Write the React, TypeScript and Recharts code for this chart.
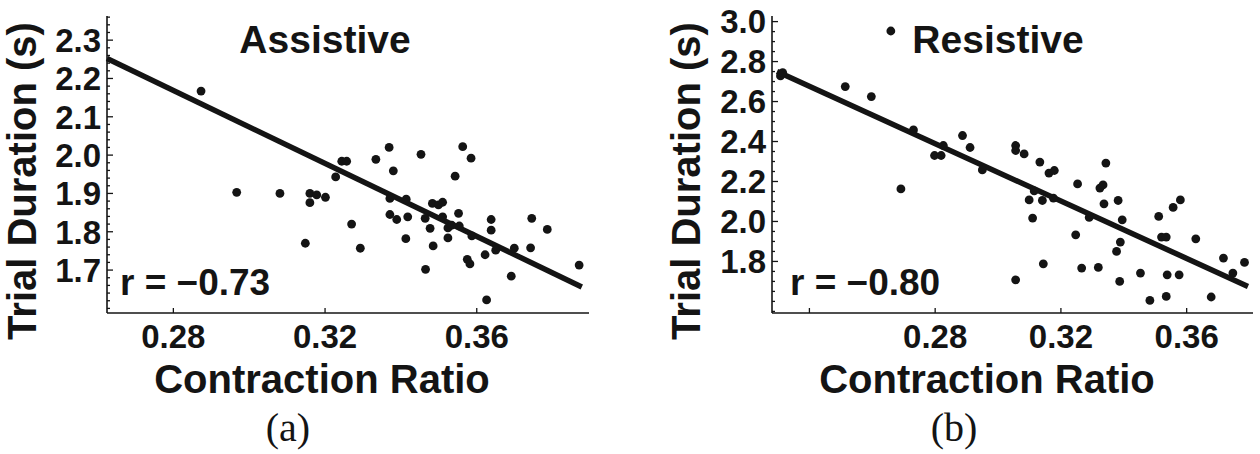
import {
  ScatterChart,
  Scatter,
  XAxis,
  YAxis,
  ReferenceLine,
  Customized,
} from "recharts";

// Assistive condition: contraction ratio vs trial duration (s)
const assistiveRatio = [
  0.2873, 0.2967, 0.3081, 0.316, 0.316, 0.3178, 0.3201, 0.3148, 0.3228, 0.3244,
  0.3257, 0.327, 0.3293, 0.3334, 0.3369, 0.338, 0.3371, 0.3371, 0.3389, 0.3414,
  0.3418, 0.3413, 0.3453, 0.3465, 0.3464, 0.3477, 0.3485, 0.3483, 0.3499, 0.351,
  0.351, 0.3524, 0.3524, 0.3543, 0.3552, 0.3554, 0.3563, 0.3585, 0.3587, 0.3575,
  0.3582, 0.3622, 0.3626, 0.3638, 0.3638, 0.365, 0.3691, 0.3699, 0.3742, 0.3745,
  0.3786, 0.387, 0.3534,
];
const assistiveDuration = [
  2.167, 1.903, 1.9, 1.9, 1.876, 1.896, 1.89, 1.77, 1.943, 1.984,
  1.984, 1.82, 1.757, 1.989, 2.02, 1.959, 1.887, 1.845, 1.832, 1.885,
  1.839, 1.782, 2.002, 1.702, 1.835, 1.809, 1.763, 1.874, 1.87, 1.877,
  1.839, 1.81, 1.784, 1.945, 1.848, 1.815, 2.022, 1.992, 1.789, 1.728,
  1.716, 1.74, 1.622, 1.832, 1.804, 1.752, 1.684, 1.757, 1.758, 1.835,
  1.806, 1.713, 1.817,
];

// Resistive condition
const resistiveRatio = [
  0.2308, 0.2315, 0.2659, 0.2514, 0.2597, 0.2691, 0.2731, 0.2798, 0.2819, 0.2826,
  0.2887, 0.2911, 0.295, 0.3056, 0.3056, 0.3083, 0.3056, 0.3099, 0.311, 0.3115,
  0.3133, 0.3141, 0.3144, 0.3162, 0.3179, 0.3176, 0.3253, 0.3247, 0.3266, 0.329,
  0.3319, 0.3324, 0.3334, 0.3337, 0.3343, 0.3377, 0.3382, 0.3387, 0.3389, 0.3395,
  0.3453, 0.3483, 0.3511, 0.352, 0.3535, 0.3538, 0.3535, 0.3557, 0.3576, 0.358,
  0.3629, 0.3678, 0.3717, 0.3747, 0.3784,
];
const resistiveDuration = [
  2.728, 2.745, 2.953, 2.675, 2.625, 2.163, 2.458, 2.33, 2.33, 2.38,
  2.43, 2.37, 2.258, 2.38, 2.355, 2.338, 1.708, 2.108, 2.017, 2.153,
  2.297, 2.105, 1.788, 2.242, 2.255, 2.117, 2.188, 1.933, 1.767, 2.02,
  1.77, 2.167, 2.183, 2.088, 2.292, 1.85, 2.105, 1.7, 1.897, 2.008,
  1.742, 1.605, 2.025, 1.922, 1.922, 1.733, 1.625, 2.07, 1.733, 2.108,
  1.913, 1.622, 1.817, 1.742, 1.795,
];

// fitted regression lines (end points)
const assistiveFit = [
  { x: 0.2625, y: 2.252 },
  { x: 0.3877, y: 1.656 },
];
const resistiveFit = [
  { x: 0.2297, y: 2.75 },
  { x: 0.3795, y: 1.675 },
];

const assistiveXTicks = [0.28, 0.32, 0.36];
const assistiveYTicks = [1.7, 1.8, 1.9, 2.0, 2.1, 2.2, 2.3];
const resistiveXTicks = [0.24, 0.28, 0.32, 0.36];
const resistiveXLabels = [0.28, 0.32, 0.36];
const resistiveYTicks = [1.8, 2.0, 2.2, 2.4, 2.6, 2.8, 3.0];

const FONT = "'Liberation Sans', Arial, Helvetica, sans-serif";
const SERIF = "'Liberation Serif', 'Times New Roman', serif";
const INK = "#141414";

const steps = (lo: number, hi: number, step: number) => {
  const out: number[] = [];
  for (let v = lo; v <= hi + 1e-9; v += step) out.push(Math.round(v * 1000) / 1000);
  return out;
};

const near = (list: number[], v: number) => list.some((m) => Math.abs(m - v) < 1e-6);

const zip = (xs: number[], ys: number[]) => xs.map((x, i) => ({ x, y: ys[i] }));

const makeYTick = (majors: number[], margin: number) => (props: any) => {
  const { x, y, payload } = props;
  const axisX = x + margin;
  const major = near(majors, payload.value);
  return (
    <g>
      <line x1={axisX} x2={axisX + (major ? 6 : 3)} y1={y} y2={y} stroke={INK} strokeWidth={1.3} />
      {major && (
        <text
          x={x}
          y={y}
          dy="0.36em"
          textAnchor="end"
          fontFamily={FONT}
          fontWeight="bold"
          fontSize={33}
          fill={INK}>
          {payload.value.toFixed(1)}
        </text>
      )}
    </g>
  );
};

const makeXTick = (labels: number[], margin: number) => (props: any) => {
  const { x, y, payload } = props;
  const axisY = y - margin;
  return (
    <g>
      <line x1={x} x2={x} y1={axisY} y2={axisY - 5} stroke={INK} strokeWidth={1.3} />
      {near(labels, payload.value) && (
        <text
          x={x}
          y={y}
          dy="0.71em"
          textAnchor="middle"
          fontFamily={FONT}
          fontWeight="bold"
          fontSize={33}
          fill={INK}>
          {payload.value.toFixed(2)}
        </text>
      )}
    </g>
  );
};

const Dot = (props: any) => <circle cx={props.cx} cy={props.cy} r={4.4} fill={INK} />;

type PanelProps = {
  points: { x: number; y: number }[];
  fit: { x: number; y: number }[];
  xDomain: [number, number];
  yDomain: [number, number];
  xTicks: number[];
  xLabels: number[];
  yTicks: number[];
  yMinor: number[];
  yAxisWidth: number;
  rightMargin: number;
  title: string;
  titleX: number;
  rText: string;
  rX: number;
  yTitleX: number;
  xTitleX: number;
  tag: string;
  tagX: number;
};

function Panel(p: PanelProps) {
  const Annotations = () => (
    <g fontFamily={FONT} fontWeight="bold" fill={INK}>
      <text x={p.titleX} y={53} fontSize={39} textAnchor="middle">
        {p.title}
      </text>
      <text x={p.rX} y={295} fontSize={37}>
        {p.rText}
      </text>
      <text
        x={p.yTitleX}
        y={181}
        fontSize={40}
        textAnchor="middle"
        transform={`rotate(-90, ${p.yTitleX}, 181)`}>
        Trial Duration (s)
      </text>
      <text x={p.xTitleX} y={393} fontSize={40} textAnchor="middle">
        Contraction Ratio
      </text>
      <text
        x={p.tagX}
        y={441}
        fontSize={40}
        fontWeight="normal"
        fontFamily={SERIF}
        textAnchor="middle">
        {p.tag}
      </text>
    </g>
  );

  return (
    <ScatterChart
      width={630}
      height={454}
      margin={{ top: 16, right: p.rightMargin, bottom: 0, left: 0 }}>
      <XAxis
        type="number"
        dataKey="x"
        domain={p.xDomain}
        allowDataOverflow
        ticks={p.xTicks}
        interval={0}
        height={141}
        tickSize={0}
        tickMargin={12}
        tick={makeXTick(p.xLabels, 12)}
        axisLine={{ stroke: INK, strokeWidth: 1.6 }}
      />
      <YAxis
        type="number"
        dataKey="y"
        domain={p.yDomain}
        allowDataOverflow
        ticks={p.yMinor}
        interval={0}
        width={p.yAxisWidth}
        tickSize={0}
        tickMargin={6}
        tick={makeYTick(p.yTicks, 6)}
        axisLine={{ stroke: INK, strokeWidth: 1.6 }}
      />
      <ReferenceLine
        segment={p.fit}
        stroke={INK}
        strokeWidth={5.5}
        ifOverflow="visible"
      />
      <Scatter data={p.points} shape={Dot} isAnimationActive={false} />
      <Customized component={<Annotations />} />
    </ScatterChart>
  );
}

export default function App() {
  return (
    <div
      style={{
        position: "absolute",
        left: 0,
        top: 0,
        width: 1260,
        height: 454,
        display: "flex",
        background: "#fff",
      }}>
      <Panel
        points={zip(assistiveRatio, assistiveDuration)}
        fit={assistiveFit}
        xDomain={[0.2625, 0.3896]}
        yDomain={[1.588, 2.363]}
        xTicks={assistiveXTicks}
        xLabels={assistiveXTicks}
        yTicks={assistiveYTicks}
        yMinor={steps(1.6, 2.36, 0.02)}
        yAxisWidth={107}
        rightMargin={41}
        title="Assistive"
        titleX={325}
        rText="r = −0.73"
        rX={120}
        yTitleX={36}
        xTitleX={322}
        tag="(a)"
        tagX={288}
      />
      <Panel
        points={zip(resistiveRatio, resistiveDuration)}
        fit={resistiveFit}
        xDomain={[0.2281, 0.3811]}
        yDomain={[1.542, 3.028]}
        xTicks={resistiveXTicks}
        xLabels={resistiveXLabels}
        yTicks={resistiveYTicks}
        yMinor={steps(1.55, 3.0, 0.05)}
        yAxisWidth={142}
        rightMargin={7}
        title="Resistive"
        titleX={368}
        rText="r = −0.80"
        rX={160}
        yTitleX={70}
        xTitleX={357}
        tag="(b)"
        tagX={324}
      />
    </div>
  );
}
